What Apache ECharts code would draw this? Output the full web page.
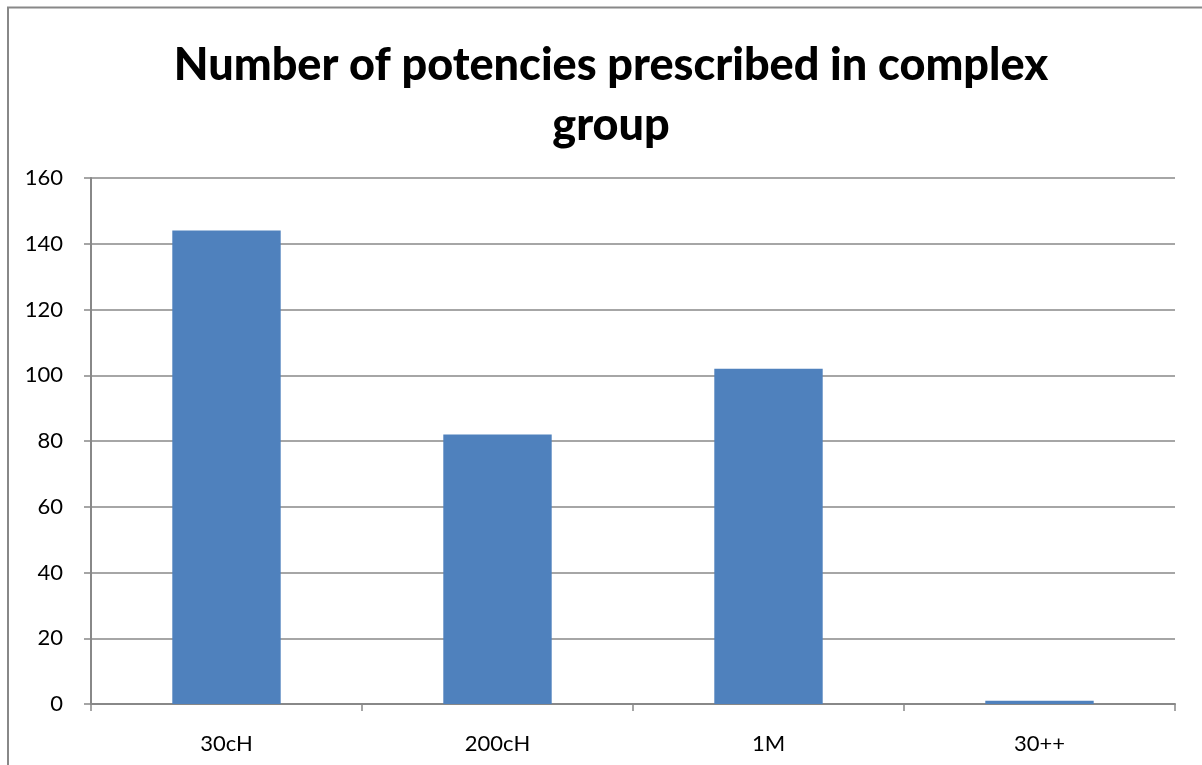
<!DOCTYPE html>
<html>
<head>
<meta charset="utf-8">
<script src="https://cdn.jsdelivr.net/npm/echarts@6/dist/echarts.min.js"></script>
<style>
  html, body { margin: 0; padding: 0; background: #fff; }
  #chart { width: 1202px; height: 765px; }
</style>
</head>
<body>
<div id="chart"></div>
<script>
// Potency categories and prescription counts
const categories = ['30cH', '200cH', '1M', '30++'];
const counts = [144, 82, 102, 1];
const yTicks = { min: 0, max: 160, interval: 20 };

const chart = echarts.init(document.getElementById('chart'), null, { renderer: 'canvas' });
const FONT = 'Lato, "Open Sans", sans-serif';

chart.setOption({
  animation: false,
  backgroundColor: '#ffffff',
  title: {
    text: 'Number of potencies prescribed in complex\ngroup',
    left: 606,
    textAlign: 'center',
    top: 30,
    textStyle: {
      fontFamily: FONT,
      fontWeight: 900,
      fontSize: 45,
      lineHeight: 60,
      color: '#000'
    }
  },
  graphic: [
    {
      type: 'polyline',
      shape: { points: [[8, 800], [8, 7.5], [1250, 7.5]] },
      style: { stroke: '#888', lineWidth: 2, fill: null },
      silent: true
    }
  ],
  grid: { left: 91, right: 27, top: 178, bottom: 61, containLabel: false },
  xAxis: {
    type: 'category',
    data: categories,
    axisLine: { lineStyle: { color: '#888', width: 2 } },
    axisTick: { show: true, length: 7, lineStyle: { color: '#888', width: 1.5 } },
    axisLabel: { fontFamily: FONT, fontSize: 22, color: '#000', margin: 29 }
  },
  yAxis: {
    type: 'value',
    min: yTicks.min,
    max: yTicks.max,
    interval: yTicks.interval,
    axisLine: { show: true, lineStyle: { color: '#888', width: 2 } },
    axisTick: { show: true, length: 7, lineStyle: { color: '#888', width: 1.5 } },
    axisLabel: { fontFamily: FONT, fontSize: 22, color: '#000', margin: 28 },
    splitLine: { lineStyle: { color: '#888', width: 1.5 } }
  },
  series: [{
    type: 'bar',
    data: counts,
    barWidth: '40%',
    itemStyle: { color: '#4f81bd' }
  }]
});
</script>
</body>
</html>
